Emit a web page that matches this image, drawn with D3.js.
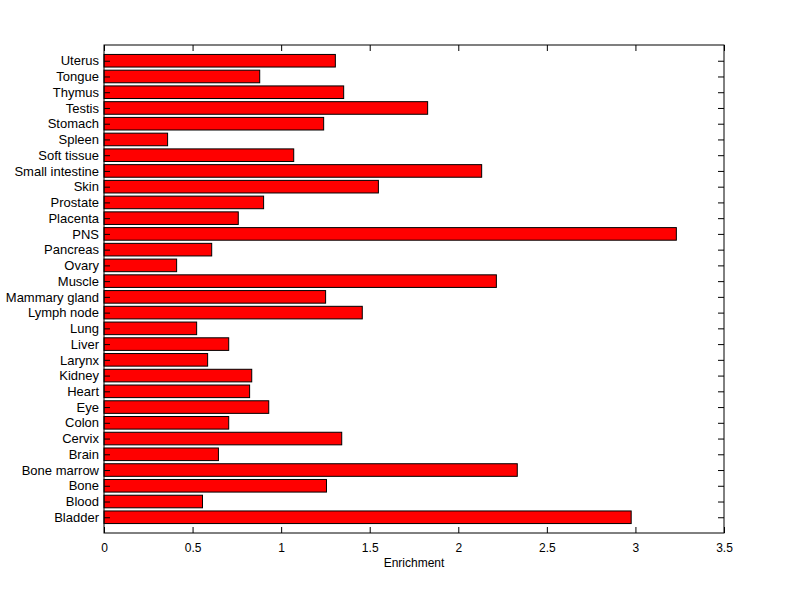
<!DOCTYPE html>
<html>
<head>
<meta charset="utf-8">
<script src="https://cdn.jsdelivr.net/npm/d3@7"></script>
<style>
  body { margin: 0; background: #fff; }
  svg { display: block; }
  text { font-family: "Liberation Sans", Arial, sans-serif; }
</style>
</head>
<body>
<svg id="chart" width="800" height="599"></svg>
<script>
const categories = ["Bladder","Blood","Bone","Bone marrow","Brain","Cervix","Colon","Eye","Heart","Kidney","Larynx","Liver","Lung","Lymph node","Mammary gland","Muscle","Ovary","Pancreas","PNS","Placenta","Prostate","Skin","Small intestine","Soft tissue","Spleen","Stomach","Testis","Thymus","Tongue","Uterus"];
const values = [2.976,0.556,1.256,2.333,0.646,1.342,0.704,0.930,0.822,0.834,0.585,0.704,0.523,1.458,1.251,2.215,0.410,0.608,3.231,0.758,0.901,1.549,2.132,1.071,0.359,1.240,1.827,1.353,0.879,1.306];
const xTicks = [0,0.5,1,1.5,2,2.5,3,3.5];
const xTickLabels = ["0","0.5","1","1.5","2","2.5","3","3.5"];
const xLabel = "Enrichment";

const pLeft = 104, pRight = 724, pTop = 45, pBottom = 533;
const svg = d3.select("#chart");

const x = d3.scaleLinear().domain([0, 3.5]).range([pLeft, pRight]);
// positions 1..N, limits 0..N+1 (as in a barh plot)
const y = d3.scaleLinear().domain([0, categories.length + 1]).range([pBottom, pTop]);
const barH = (y(0) - y(0.8));

const data = categories.map((c, i) => ({c, v: values[i], pos: i + 1}));

// bars
svg.append("g").selectAll("rect").data(data).join("rect")
  .attr("x", x(0))
  .attr("y", d => y(d.pos) - barH / 2)
  .attr("width", d => x(d.v) - x(0))
  .attr("height", barH)
  .attr("fill", "#ff0000")
  .attr("stroke", "#000")
  .attr("stroke-width", 1);

// axes
const tickLen = 6;
const bottomAxis = d3.axisBottom(x).tickValues(xTicks).tickFormat((d, i) => xTickLabels[i]).tickSizeInner(-tickLen).tickSizeOuter(0).tickPadding(10);
const topAxis = d3.axisTop(x).tickValues(xTicks).tickFormat("").tickSizeInner(-tickLen).tickSizeOuter(0);
const leftAxis = d3.axisLeft(y).tickValues(data.map(d => d.pos)).tickFormat((d) => categories[d - 1]).tickSizeInner(-tickLen).tickSizeOuter(0);
const rightAxis = d3.axisRight(y).tickValues(data.map(d => d.pos)).tickFormat("").tickSizeInner(-tickLen).tickSizeOuter(0);

function style(g, fs) {
  g.select(".domain").remove();
  g.selectAll("line").attr("stroke", "#000");
  g.selectAll("text").attr("fill", "#000").attr("font-size", fs || 12);
}

svg.append("g").attr("transform", `translate(0,${pBottom})`).call(bottomAxis).call(style, 12);
svg.append("g").attr("transform", `translate(0,${pTop})`).call(topAxis).call(style, 12);
const gl = svg.append("g").attr("transform", `translate(${pLeft},0)`).call(leftAxis).call(style, 13);
gl.selectAll("text").attr("x", -5);
svg.append("g").attr("transform", `translate(${pRight},0)`).call(rightAxis).call(style, 12);

// box
svg.append("rect").attr("x", pLeft).attr("y", pTop).attr("width", pRight - pLeft).attr("height", pBottom - pTop)
  .attr("fill", "none").attr("stroke", "#000").attr("stroke-width", 1);

// x label
svg.append("text").attr("x", (pLeft + pRight) / 2).attr("y", 567)
  .attr("text-anchor", "middle").attr("font-size", 12).attr("fill", "#000").text(xLabel);
</script>
</body>
</html>
